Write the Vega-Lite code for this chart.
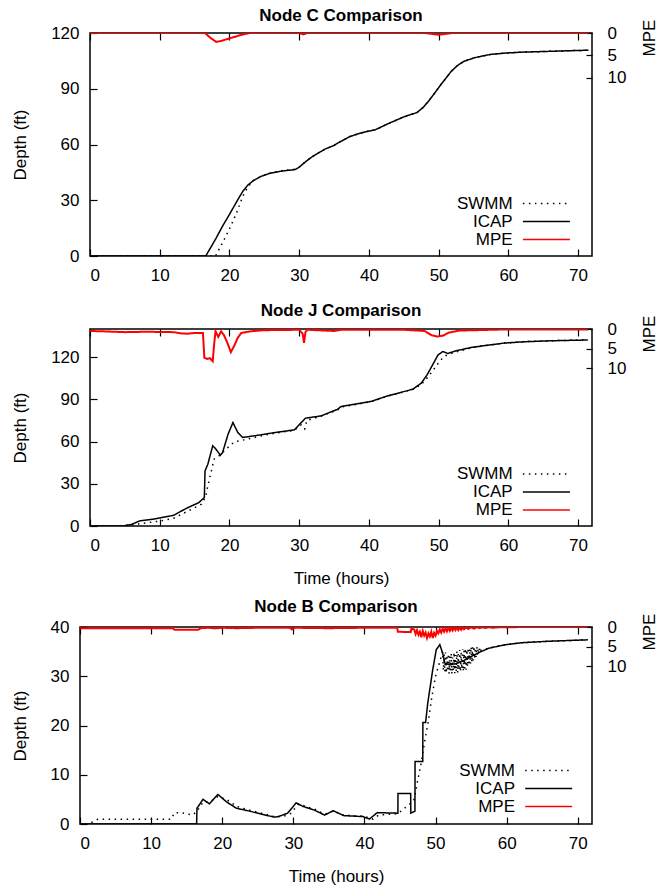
{
  "$schema": "https://vega.github.io/schema/vega-lite/v6.json",
  "background": "white",
  "padding": {"left": 9, "top": 6, "right": 0, "bottom": 0},
  "columns": 1,
  "spacing": 10,
  "resolve": {"scale": {"color": "independent", "strokeDash": "independent"}},
  "config": {
    "font": "Liberation Sans",
    "view": {"stroke": "#000", "strokeWidth": 1.5},
    "axis": {"grid": false, "domain": false, "labelFontSize": 17, "titleFontSize": 17, "titleFontWeight": "normal", "labelColor": "#000", "titleColor": "#000", "tickColor": "#000", "tickSize": -7, "tickWidth": 1.2, "labelPadding": 18},
    "axisX": {"titlePadding": 17},
    "axisY": {"titlePadding": 21},
    "title": {"fontSize": 17, "fontWeight": "bold", "color": "#000"},
    "legend": {"labelFontSize": 17, "labelColor": "#000", "labelAlign": "right", "labelOffset": -43.7, "symbolSize": 335, "symbolStrokeWidth": 1.5, "symbolType": "M-2.57,0H2.57", "rowPadding": 0, "padding": 0, "title": null}
  },
  "datasets": {
    "C": [
      {"s":"SWMM","t":0,"v":0},{"s":"SWMM","t":18,"v":0},{"s":"SWMM","t":19,"v":7},{"s":"SWMM","t":20,"v":14.5},{"s":"SWMM","t":21,"v":23},{"s":"SWMM","t":21.9,"v":32},{"s":"SWMM","t":22.6,"v":37},{"s":"SWMM","t":23.4,"v":40.5},{"s":"SWMM","t":24.5,"v":42.8},{"s":"SWMM","t":25.8,"v":44.5},{"s":"SWMM","t":27.5,"v":45.9},{"s":"SWMM","t":29.4,"v":46.7},{"s":"SWMM","t":30,"v":47.8},{"s":"SWMM","t":31,"v":51},{"s":"SWMM","t":31.9,"v":53.5},{"s":"SWMM","t":33,"v":56},{"s":"SWMM","t":33.7,"v":57.5},{"s":"SWMM","t":35,"v":59.5},{"s":"SWMM","t":35.5,"v":60.7},{"s":"SWMM","t":37.3,"v":64.3},{"s":"SWMM","t":38.5,"v":65.8},{"s":"SWMM","t":39.7,"v":67},{"s":"SWMM","t":40.9,"v":67.9},{"s":"SWMM","t":42.7,"v":71.1},{"s":"SWMM","t":45.1,"v":75},{"s":"SWMM","t":46.9,"v":77.2},{"s":"SWMM","t":47.8,"v":80},{"s":"SWMM","t":48.7,"v":84},{"s":"SWMM","t":49.5,"v":88},{"s":"SWMM","t":50.3,"v":92.1},{"s":"SWMM","t":51.8,"v":99.3},{"s":"SWMM","t":52.7,"v":102.5},{"s":"SWMM","t":53.6,"v":104.7},{"s":"SWMM","t":55,"v":106.5},{"s":"SWMM","t":56,"v":107.4},{"s":"SWMM","t":57.5,"v":108.5},{"s":"SWMM","t":59.6,"v":109.2},{"s":"SWMM","t":62,"v":109.7},{"s":"SWMM","t":65.6,"v":110.1},{"s":"SWMM","t":69.9,"v":110.6},{"s":"SWMM","t":71.5,"v":110.7},
      {"s":"ICAP","t":0,"v":0},{"s":"ICAP","t":16.6,"v":0},{"s":"ICAP","t":18,"v":9},{"s":"ICAP","t":19,"v":16},{"s":"ICAP","t":20.1,"v":23},{"s":"ICAP","t":21,"v":29},{"s":"ICAP","t":21.9,"v":34.7},{"s":"ICAP","t":22.6,"v":38},{"s":"ICAP","t":23.4,"v":40.5},{"s":"ICAP","t":24.5,"v":42.8},{"s":"ICAP","t":25.8,"v":44.5},{"s":"ICAP","t":27.5,"v":45.7},{"s":"ICAP","t":29.4,"v":46.5},{"s":"ICAP","t":30,"v":47.8},{"s":"ICAP","t":31,"v":51},{"s":"ICAP","t":31.9,"v":53.5},{"s":"ICAP","t":33,"v":56},{"s":"ICAP","t":33.7,"v":57.5},{"s":"ICAP","t":35,"v":59.5},{"s":"ICAP","t":35.5,"v":60.7},{"s":"ICAP","t":37.3,"v":64.3},{"s":"ICAP","t":38.5,"v":65.8},{"s":"ICAP","t":39.7,"v":67},{"s":"ICAP","t":40.9,"v":67.9},{"s":"ICAP","t":42.7,"v":71.1},{"s":"ICAP","t":45.1,"v":75},{"s":"ICAP","t":46.9,"v":77.2},{"s":"ICAP","t":47.8,"v":80},{"s":"ICAP","t":48.7,"v":84},{"s":"ICAP","t":49.5,"v":88},{"s":"ICAP","t":50.3,"v":92.1},{"s":"ICAP","t":51.8,"v":99.3},{"s":"ICAP","t":52.7,"v":102.5},{"s":"ICAP","t":53.6,"v":104.7},{"s":"ICAP","t":55,"v":106.5},{"s":"ICAP","t":56,"v":107.4},{"s":"ICAP","t":57.5,"v":108.5},{"s":"ICAP","t":59.6,"v":109.2},{"s":"ICAP","t":62,"v":109.7},{"s":"ICAP","t":65.6,"v":110.1},{"s":"ICAP","t":69.9,"v":110.6},{"s":"ICAP","t":71.5,"v":110.7},
      {"s":"MPE","t":0,"v":0},{"s":"MPE","t":16.5,"v":0},{"s":"MPE","t":17.2,"v":1.0},{"s":"MPE","t":18.1,"v":2.0},{"s":"MPE","t":19,"v":1.7},{"s":"MPE","t":20,"v":1.2},{"s":"MPE","t":20.7,"v":0.9},{"s":"MPE","t":21.5,"v":0.5},{"s":"MPE","t":22.7,"v":0.07},{"s":"MPE","t":23,"v":0},{"s":"MPE","t":30,"v":0},{"s":"MPE","t":30.6,"v":0.3},{"s":"MPE","t":31.2,"v":0},{"s":"MPE","t":48,"v":0},{"s":"MPE","t":50,"v":0.4},{"s":"MPE","t":52,"v":0},{"s":"MPE","t":71.5,"v":0}
    ],
    "J": [
      {"s":"SWMM","t":0,"v":0},{"s":"SWMM","t":4,"v":0},{"s":"SWMM","t":6,"v":0.8},{"s":"SWMM","t":8,"v":2.2},{"s":"SWMM","t":10,"v":3.5},{"s":"SWMM","t":12,"v":5.5},{"s":"SWMM","t":14,"v":10.5},{"s":"SWMM","t":16,"v":15.5},{"s":"SWMM","t":16.6,"v":21},{"s":"SWMM","t":16.9,"v":28.5},{"s":"SWMM","t":17.4,"v":39},{"s":"SWMM","t":17.8,"v":47.5},{"s":"SWMM","t":18.5,"v":49.8},{"s":"SWMM","t":19.5,"v":54.6},{"s":"SWMM","t":20.7,"v":59.8},{"s":"SWMM","t":22.1,"v":61.2},{"s":"SWMM","t":24.1,"v":63.5},{"s":"SWMM","t":26.5,"v":66},{"s":"SWMM","t":29.3,"v":68},{"s":"SWMM","t":30.3,"v":72},{"s":"SWMM","t":30.8,"v":69},{"s":"SWMM","t":31.1,"v":75},{"s":"SWMM","t":33.1,"v":78},{"s":"SWMM","t":35.5,"v":82.5},{"s":"SWMM","t":36,"v":84.5},{"s":"SWMM","t":40.3,"v":88.3},{"s":"SWMM","t":42.7,"v":92.3},{"s":"SWMM","t":46.3,"v":97},{"s":"SWMM","t":47.5,"v":100.5},{"s":"SWMM","t":48.5,"v":106},{"s":"SWMM","t":49.4,"v":112},{"s":"SWMM","t":50.3,"v":118},{"s":"SWMM","t":51,"v":121},{"s":"SWMM","t":52,"v":123},{"s":"SWMM","t":54.7,"v":126.6},{"s":"SWMM","t":56.6,"v":128.2},{"s":"SWMM","t":59.4,"v":130},{"s":"SWMM","t":62.5,"v":131},{"s":"SWMM","t":66.6,"v":131.7},{"s":"SWMM","t":71.4,"v":132.2},
      {"s":"ICAP","t":0,"v":0},{"s":"ICAP","t":4.8,"v":0},{"s":"ICAP","t":6,"v":1.2},{"s":"ICAP","t":7.1,"v":3.6},{"s":"ICAP","t":9,"v":4.8},{"s":"ICAP","t":12,"v":7.6},{"s":"ICAP","t":13.8,"v":12.5},{"s":"ICAP","t":15.6,"v":16.6},{"s":"ICAP","t":16.4,"v":20.2},{"s":"ICAP","t":16.5,"v":39.2},{"s":"ICAP","t":16.9,"v":43.9},{"s":"ICAP","t":17.6,"v":57},{"s":"ICAP","t":18,"v":55},{"s":"ICAP","t":18.7,"v":50.3},{"s":"ICAP","t":19,"v":52},{"s":"ICAP","t":19.8,"v":65.2},{"s":"ICAP","t":20.5,"v":73.5},{"s":"ICAP","t":21.2,"v":66.4},{"s":"ICAP","t":21.9,"v":62.9},{"s":"ICAP","t":24.1,"v":64.5},{"s":"ICAP","t":26.5,"v":66.4},{"s":"ICAP","t":29.3,"v":68.3},{"s":"ICAP","t":30.3,"v":73.5},{"s":"ICAP","t":30.9,"v":76.6},{"s":"ICAP","t":33.1,"v":78.2},{"s":"ICAP","t":35.5,"v":82.9},{"s":"ICAP","t":36,"v":84.9},{"s":"ICAP","t":40.3,"v":88.5},{"s":"ICAP","t":42.7,"v":92.5},{"s":"ICAP","t":46.3,"v":97.2},{"s":"ICAP","t":47.5,"v":101.5},{"s":"ICAP","t":48.3,"v":107},{"s":"ICAP","t":49.2,"v":115},{"s":"ICAP","t":49.9,"v":121.5},{"s":"ICAP","t":50.6,"v":124},{"s":"ICAP","t":51.3,"v":122.6},{"s":"ICAP","t":52.5,"v":124.5},{"s":"ICAP","t":54.7,"v":126.9},{"s":"ICAP","t":56.6,"v":128.2},{"s":"ICAP","t":59.4,"v":130},{"s":"ICAP","t":62.5,"v":131},{"s":"ICAP","t":66.6,"v":131.7},{"s":"ICAP","t":71.4,"v":132.2},
      {"s":"MPE","t":0,"v":0.5},{"s":"MPE","t":2,"v":0.6},{"s":"MPE","t":5,"v":0.8},{"s":"MPE","t":8,"v":0.7},{"s":"MPE","t":12,"v":0.8},{"s":"MPE","t":13,"v":1.1},{"s":"MPE","t":14,"v":1.2},{"s":"MPE","t":15,"v":1.0},{"s":"MPE","t":16.2,"v":1.0},{"s":"MPE","t":16.4,"v":7.3},{"s":"MPE","t":16.8,"v":7.6},{"s":"MPE","t":17.2,"v":7.4},{"s":"MPE","t":17.6,"v":8.2},{"s":"MPE","t":17.8,"v":4},{"s":"MPE","t":18,"v":0.6},{"s":"MPE","t":18.4,"v":2},{"s":"MPE","t":18.8,"v":0.6},{"s":"MPE","t":19.2,"v":1.5},{"s":"MPE","t":19.7,"v":3.5},{"s":"MPE","t":20.2,"v":5.9},{"s":"MPE","t":20.7,"v":4.2},{"s":"MPE","t":21.2,"v":2.2},{"s":"MPE","t":21.7,"v":1.0},{"s":"MPE","t":23,"v":0.6},{"s":"MPE","t":25,"v":0.3},{"s":"MPE","t":30,"v":0.2},{"s":"MPE","t":30.5,"v":1.2},{"s":"MPE","t":30.7,"v":3.5},{"s":"MPE","t":30.9,"v":0.8},{"s":"MPE","t":31.2,"v":0.2},{"s":"MPE","t":35,"v":0.5},{"s":"MPE","t":36,"v":0.2},{"s":"MPE","t":45,"v":0.2},{"s":"MPE","t":48,"v":0.5},{"s":"MPE","t":49,"v":1.6},{"s":"MPE","t":49.8,"v":1.9},{"s":"MPE","t":50.6,"v":1.7},{"s":"MPE","t":51.5,"v":0.9},{"s":"MPE","t":53,"v":0.4},{"s":"MPE","t":60,"v":0.1},{"s":"MPE","t":71.4,"v":0.1}
    ],
    "B": [
      {"s":"SWMM","t":1.6,"v":0.3},{"s":"SWMM","t":2.5,"v":0.95},{"s":"SWMM","t":12.8,"v":0.95},{"s":"SWMM","t":13.3,"v":2.3},{"s":"SWMM","t":14.2,"v":2.3},{"s":"SWMM","t":15.2,"v":2.0},{"s":"SWMM","t":15.8,"v":1.8},{"s":"SWMM","t":16.4,"v":2.5},{"s":"SWMM","t":17.3,"v":4.4},{"s":"SWMM","t":18.2,"v":4.4},{"s":"SWMM","t":19.4,"v":5.6},{"s":"SWMM","t":20.6,"v":5.0},{"s":"SWMM","t":22,"v":3.6},{"s":"SWMM","t":23.6,"v":2.9},{"s":"SWMM","t":25.5,"v":2.2},{"s":"SWMM","t":27.3,"v":1.5},{"s":"SWMM","t":28.5,"v":1.5},{"s":"SWMM","t":29.6,"v":2.1},{"s":"SWMM","t":30.7,"v":4.0},{"s":"SWMM","t":31.5,"v":3.7},{"s":"SWMM","t":33,"v":3.0},{"s":"SWMM","t":34.4,"v":2.0},{"s":"SWMM","t":35.6,"v":2.6},{"s":"SWMM","t":37.1,"v":1.8},{"s":"SWMM","t":39.8,"v":1.6},{"s":"SWMM","t":41.2,"v":1.0},{"s":"SWMM","t":42,"v":1.8},{"s":"SWMM","t":44.7,"v":2.1},{"s":"SWMM","t":46.5,"v":4.2},{"s":"SWMM","t":47,"v":5},{"s":"SWMM","t":47.5,"v":9},{"s":"SWMM","t":48,"v":12.5},{"s":"SWMM","t":48.5,"v":17},{"s":"SWMM","t":49,"v":21},{"s":"SWMM","t":49.5,"v":26},{"s":"SWMM","t":50,"v":30},{"s":"SWMM","t":50.5,"v":32.5},{"s":"SWMM","t":51.0,"v":35.0},{"s":"SWMM","t":51.1,"v":31.2},{"s":"SWMM","t":51.2,"v":34.4},{"s":"SWMM","t":51.3,"v":30.9},{"s":"SWMM","t":51.4,"v":34.8},{"s":"SWMM","t":51.5,"v":30.6},{"s":"SWMM","t":51.6,"v":33.9},{"s":"SWMM","t":51.7,"v":31.0},{"s":"SWMM","t":51.8,"v":34.6},{"s":"SWMM","t":51.9,"v":30.5},{"s":"SWMM","t":52.0,"v":34.1},{"s":"SWMM","t":52.1,"v":30.8},{"s":"SWMM","t":52.2,"v":34.7},{"s":"SWMM","t":52.3,"v":30.4},{"s":"SWMM","t":52.4,"v":33.8},{"s":"SWMM","t":52.5,"v":31.1},{"s":"SWMM","t":52.6,"v":34.9},{"s":"SWMM","t":52.7,"v":30.6},{"s":"SWMM","t":52.8,"v":34.3},{"s":"SWMM","t":52.9,"v":30.9},{"s":"SWMM","t":53.0,"v":35.1},{"s":"SWMM","t":53.1,"v":30.7},{"s":"SWMM","t":53.2,"v":34.5},{"s":"SWMM","t":53.3,"v":31.2},{"s":"SWMM","t":53.4,"v":35.3},{"s":"SWMM","t":53.5,"v":30.9},{"s":"SWMM","t":53.6,"v":34.8},{"s":"SWMM","t":53.7,"v":31.4},{"s":"SWMM","t":53.8,"v":35.5},{"s":"SWMM","t":53.9,"v":31.0},{"s":"SWMM","t":54.0,"v":35.2},{"s":"SWMM","t":54.1,"v":31.6},{"s":"SWMM","t":54.2,"v":35.7},{"s":"SWMM","t":54.3,"v":31.3},{"s":"SWMM","t":54.4,"v":35.4},{"s":"SWMM","t":54.5,"v":31.9},{"s":"SWMM","t":54.6,"v":35.8},{"s":"SWMM","t":54.7,"v":32.2},{"s":"SWMM","t":54.8,"v":35.6},{"s":"SWMM","t":54.9,"v":32.5},{"s":"SWMM","t":55.0,"v":36.0},{"s":"SWMM","t":55.1,"v":32.8},{"s":"SWMM","t":55.2,"v":35.9},{"s":"SWMM","t":55.3,"v":33.2},{"s":"SWMM","t":55.4,"v":36.1},{"s":"SWMM","t":55.5,"v":33.5},{"s":"SWMM","t":55.6,"v":35.8},{"s":"SWMM","t":55.7,"v":33.9},{"s":"SWMM","t":55.8,"v":36.0},{"s":"SWMM","t":55.9,"v":34.3},{"s":"SWMM","t":56.0,"v":35.7},{"s":"SWMM","t":56.1,"v":34.6},{"s":"SWMM","t":56.2,"v":35.6},{"s":"SWMM","t":56.3,"v":34.9},{"s":"SWMM","t":56.4,"v":35.3},{"s":"SWMM","t":57.5,"v":35.7},{"s":"SWMM","t":59.8,"v":36.4},{"s":"SWMM","t":62,"v":36.8},{"s":"SWMM","t":65.8,"v":37.1},{"s":"SWMM","t":71.4,"v":37.4},
      {"s":"ICAP","t":0,"v":0},{"s":"ICAP","t":16.4,"v":0},{"s":"ICAP","t":16.45,"v":3.2},{"s":"ICAP","t":17.3,"v":5.0},{"s":"ICAP","t":18.2,"v":4.1},{"s":"ICAP","t":19.4,"v":6.0},{"s":"ICAP","t":20.6,"v":4.5},{"s":"ICAP","t":22,"v":3.2},{"s":"ICAP","t":23.6,"v":2.7},{"s":"ICAP","t":25.5,"v":2.0},{"s":"ICAP","t":27.3,"v":1.4},{"s":"ICAP","t":27.9,"v":1.5},{"s":"ICAP","t":29.2,"v":2.2},{"s":"ICAP","t":30.4,"v":4.3},{"s":"ICAP","t":31.3,"v":3.6},{"s":"ICAP","t":33,"v":2.8},{"s":"ICAP","t":34.4,"v":1.8},{"s":"ICAP","t":35.6,"v":2.7},{"s":"ICAP","t":37.1,"v":1.7},{"s":"ICAP","t":39.8,"v":1.5},{"s":"ICAP","t":40.7,"v":1.0},{"s":"ICAP","t":41.8,"v":2.3},{"s":"ICAP","t":44.7,"v":2.2},{"s":"ICAP","t":44.72,"v":6.2},{"s":"ICAP","t":46.5,"v":6.2},{"s":"ICAP","t":46.52,"v":2.2},{"s":"ICAP","t":47.1,"v":2.6},{"s":"ICAP","t":47.12,"v":12.7},{"s":"ICAP","t":48.2,"v":12.7},{"s":"ICAP","t":48.22,"v":20.6},{"s":"ICAP","t":48.6,"v":20.6},{"s":"ICAP","t":48.9,"v":24.5},{"s":"ICAP","t":49.6,"v":31.3},{"s":"ICAP","t":50.1,"v":35.4},{"s":"ICAP","t":50.6,"v":36.4},{"s":"ICAP","t":51.0,"v":34.7},{"s":"ICAP","t":51.3,"v":32.7},{"s":"ICAP","t":52,"v":32.3},{"s":"ICAP","t":53,"v":32.6},{"s":"ICAP","t":54,"v":33.2},{"s":"ICAP","t":55,"v":34},{"s":"ICAP","t":56.4,"v":35},{"s":"ICAP","t":57.5,"v":35.7},{"s":"ICAP","t":59.8,"v":36.4},{"s":"ICAP","t":62,"v":36.8},{"s":"ICAP","t":65.8,"v":37.1},{"s":"ICAP","t":71.4,"v":37.4},
      {"s":"MPE","t":0,"v":0.3},{"s":"MPE","t":13,"v":0.3},{"s":"MPE","t":13.3,"v":0.7},{"s":"MPE","t":16.6,"v":0.7},{"s":"MPE","t":17,"v":0.3},{"s":"MPE","t":18,"v":0.2},{"s":"MPE","t":19,"v":0.35},{"s":"MPE","t":20,"v":0.2},{"s":"MPE","t":22,"v":0.3},{"s":"MPE","t":25,"v":0.2},{"s":"MPE","t":29.5,"v":0.2},{"s":"MPE","t":29.8,"v":0.6},{"s":"MPE","t":30.2,"v":0.2},{"s":"MPE","t":35,"v":0.3},{"s":"MPE","t":40,"v":0.2},{"s":"MPE","t":44.6,"v":0.2},{"s":"MPE","t":44.7,"v":1.2},{"s":"MPE","t":46.5,"v":1.3},{"s":"MPE","t":46.6,"v":0.5},{"s":"MPE","t":47,"v":0.6},{"s":"MPE","t":47.2,"v":1.8},{"s":"MPE","t":47.4,"v":0.8},{"s":"MPE","t":47.6,"v":2.0},{"s":"MPE","t":47.8,"v":1.2},{"s":"MPE","t":48.0,"v":2.6},{"s":"MPE","t":48.2,"v":1.0},{"s":"MPE","t":48.4,"v":2.2},{"s":"MPE","t":48.6,"v":1.4},{"s":"MPE","t":48.8,"v":2.8},{"s":"MPE","t":49.0,"v":1.6},{"s":"MPE","t":49.2,"v":2.4},{"s":"MPE","t":49.4,"v":1.2},{"s":"MPE","t":49.6,"v":2.8},{"s":"MPE","t":49.8,"v":1.5},{"s":"MPE","t":50.0,"v":2.2},{"s":"MPE","t":50.2,"v":1.0},{"s":"MPE","t":50.4,"v":1.6},{"s":"MPE","t":50.6,"v":0.6},{"s":"MPE","t":50.8,"v":1.4},{"s":"MPE","t":51.0,"v":0.4},{"s":"MPE","t":51.2,"v":1.2},{"s":"MPE","t":51.4,"v":0.3},{"s":"MPE","t":51.6,"v":1.1},{"s":"MPE","t":51.8,"v":0.2},{"s":"MPE","t":52,"v":1.0},{"s":"MPE","t":52.2,"v":0.2},{"s":"MPE","t":52.4,"v":0.9},{"s":"MPE","t":52.6,"v":0.1},{"s":"MPE","t":52.8,"v":0.8},{"s":"MPE","t":53,"v":0.1},{"s":"MPE","t":53.2,"v":0.8},{"s":"MPE","t":53.4,"v":0.1},{"s":"MPE","t":53.6,"v":0.7},{"s":"MPE","t":53.8,"v":0.1},{"s":"MPE","t":54,"v":0.6},{"s":"MPE","t":54.3,"v":0.1},{"s":"MPE","t":54.6,"v":0.5},{"s":"MPE","t":55,"v":0.1},{"s":"MPE","t":55.4,"v":0.4},{"s":"MPE","t":55.8,"v":0.05},{"s":"MPE","t":56.2,"v":0.3},{"s":"MPE","t":56.6,"v":0.05},{"s":"MPE","t":57,"v":0.25},{"s":"MPE","t":57.5,"v":0.05},{"s":"MPE","t":58,"v":0.2},{"s":"MPE","t":59,"v":0.05},{"s":"MPE","t":60,"v":0.1},{"s":"MPE","t":62,"v":0},{"s":"MPE","t":71.4,"v":0}
    ],
    "spacer": [{"a": 0}]
  },
  "concat": [
    {
      "spacing": 0,
      "resolve": {"scale": {"color": "independent", "strokeDash": "independent"}},
      "hconcat": [
        {"width": 1, "height": 1, "data": {"name": "spacer"}, "mark": {"type": "point", "size": 0, "strokeWidth": 0, "opacity": 0}, "encoding": {}, "view": {"stroke": null}},
        {
          "title": {"text": "Node C Comparison", "frame": "group", "offset": -6},
          "width": 502, "height": 223,
          "data": {"name": "C"},
          "resolve": {"scale": {"y": "independent"}, "axis": {"x": "independent"}},
          "layer": [
            {
              "transform": [{"filter": "datum.s != 'MPE'"}],
              "mark": {"type": "line", "strokeWidth": 1.5, "clip": true},
              "encoding": {
                "x": {"field": "t", "type": "quantitative", "scale": {"domain": [0, 72], "nice": false}, "axis": {"values": [0,10,20,30,40,50,60,70], "title": " ", "titleFontSize": 1, "titlePadding": 6}},
                "y": {"field": "v", "type": "quantitative", "scale": {"domain": [0, 120], "nice": false}, "axis": {"values": [0,30,60,90,120], "title": "Depth (ft)"}},
                "color": {"field": "s", "type": "nominal", "scale": {"domain": ["SWMM","ICAP","MPE"], "range": ["#000000","#000000","#ff0000"]}, "legend": {"orient": "none", "legendX": 446.4, "legendY": 160.6, "symbolType": "M-2.57,0H2.57"}},
                "strokeDash": {"field": "s", "type": "nominal", "scale": {"domain": ["SWMM","ICAP","MPE"], "range": [[1.5,4.5],[1,0],[1,0]]}, "legend": {"orient": "none", "legendX": 446.4, "legendY": 160.6, "symbolType": "M-2.57,0H2.57"}}
              }
            },
            {
              "transform": [{"filter": "datum.s == 'MPE'"}],
              "mark": {"type": "line", "strokeWidth": 2, "clip": true},
              "encoding": {
                "x": {"field": "t", "type": "quantitative", "scale": {"domain": [0, 72], "nice": false}, "axis": {"orient": "top", "values": [0,10,20,30,40,50,60,70], "labels": false, "title": null}},
                "y": {"field": "v", "type": "quantitative", "scale": {"domain": [0, 50], "reverse": true, "nice": false}, "axis": {"orient": "right", "values": [0,5,10], "tickSize": -6, "labelPadding": 21, "title": "MPE", "titleAngle": 270, "titleX": 57, "titleY": 4.5, "titleAlign": "center", "titleBaseline": "middle"}},
                "color": {"field": "s", "type": "nominal", "scale": {"domain": ["SWMM","ICAP","MPE"], "range": ["#000000","#000000","#ff0000"]}},
                "strokeDash": {"field": "s", "type": "nominal", "scale": {"domain": ["SWMM","ICAP","MPE"], "range": [[1.5,4.5],[1,0],[1,0]]}}
              }
            }
          ]
        }
      ]
    },
    {
      "spacing": 0,
      "resolve": {"scale": {"color": "independent", "strokeDash": "independent"}},
      "hconcat": [
        {"width": 1, "height": 1, "data": {"name": "spacer"}, "mark": {"type": "point", "size": 0, "strokeWidth": 0, "opacity": 0}, "encoding": {}, "view": {"stroke": null}},
        {
          "title": {"text": "Node J Comparison", "frame": "group", "offset": -5},
          "width": 502, "height": 197,
          "data": {"name": "J"},
          "resolve": {"scale": {"y": "independent"}, "axis": {"x": "independent"}},
          "layer": [
            {
              "transform": [{"filter": "datum.s != 'MPE'"}],
              "mark": {"type": "line", "strokeWidth": 1.5, "clip": true},
              "encoding": {
                "x": {"field": "t", "type": "quantitative", "scale": {"domain": [0, 72], "nice": false}, "axis": {"values": [0,10,20,30,40,50,60,70], "title": "Time (hours)"}},
                "y": {"field": "v", "type": "quantitative", "scale": {"domain": [0, 140], "nice": false}, "axis": {"values": [0,30,60,90,120], "title": "Depth (ft)"}},
                "color": {"field": "s", "type": "nominal", "scale": {"domain": ["SWMM","ICAP","MPE"], "range": ["#000000","#000000","#ff0000"]}, "legend": {"orient": "none", "legendX": 446.4, "legendY": 134.9, "symbolType": "M-2.57,0H2.57"}},
                "strokeDash": {"field": "s", "type": "nominal", "scale": {"domain": ["SWMM","ICAP","MPE"], "range": [[1.5,4.5],[1,0],[1,0]]}, "legend": {"orient": "none", "legendX": 446.4, "legendY": 134.9, "symbolType": "M-2.57,0H2.57"}}
              }
            },
            {
              "transform": [{"filter": "datum.s == 'MPE'"}],
              "mark": {"type": "line", "strokeWidth": 2, "clip": true},
              "encoding": {
                "x": {"field": "t", "type": "quantitative", "scale": {"domain": [0, 72], "nice": false}, "axis": {"orient": "top", "values": [0,10,20,30,40,50,60,70], "labels": false, "title": null}},
                "y": {"field": "v", "type": "quantitative", "scale": {"domain": [0, 50], "reverse": true, "nice": false}, "axis": {"orient": "right", "values": [0,5,10], "tickSize": -6, "labelPadding": 21, "title": "MPE", "titleAngle": 270, "titleX": 57, "titleY": 4.5, "titleAlign": "center", "titleBaseline": "middle"}},
                "color": {"field": "s", "type": "nominal", "scale": {"domain": ["SWMM","ICAP","MPE"], "range": ["#000000","#000000","#ff0000"]}},
                "strokeDash": {"field": "s", "type": "nominal", "scale": {"domain": ["SWMM","ICAP","MPE"], "range": [[1.5,4.5],[1,0],[1,0]]}}
              }
            }
          ]
        }
      ]
    },
    {
      "spacing": 0,
      "resolve": {"scale": {"color": "independent", "strokeDash": "independent"}},
      "hconcat": [
        {"width": 1, "height": 1, "data": {"name": "spacer"}, "mark": {"type": "point", "size": 0, "strokeWidth": 0, "opacity": 0}, "encoding": {}, "view": {"stroke": null}},
        {
          "title": {"text": "Node B Comparison", "frame": "group", "offset": -3},
          "width": 512, "height": 197,
          "data": {"name": "B"},
          "resolve": {"scale": {"y": "independent"}, "axis": {"x": "independent"}},
          "layer": [
            {
              "transform": [{"filter": "datum.s != 'MPE'"}],
              "mark": {"type": "line", "strokeWidth": 1.5, "clip": true},
              "encoding": {
                "x": {"field": "t", "type": "quantitative", "scale": {"domain": [0, 72], "nice": false}, "axis": {"values": [0,10,20,30,40,50,60,70], "title": "Time (hours)"}},
                "y": {"field": "v", "type": "quantitative", "scale": {"domain": [0, 40], "nice": false}, "axis": {"values": [0,10,20,30,40], "title": "Depth (ft)"}},
                "color": {"field": "s", "type": "nominal", "scale": {"domain": ["SWMM","ICAP","MPE"], "range": ["#000000","#000000","#ff0000"]}, "legend": {"orient": "none", "legendX": 458.7, "legendY": 133.5, "symbolType": "M-2.57,0H2.57"}},
                "strokeDash": {"field": "s", "type": "nominal", "scale": {"domain": ["SWMM","ICAP","MPE"], "range": [[1.5,4.5],[1,0],[1,0]]}, "legend": {"orient": "none", "legendX": 458.7, "legendY": 133.5, "symbolType": "M-2.57,0H2.57"}}
              }
            },
            {
              "transform": [{"filter": "datum.s == 'MPE'"}],
              "mark": {"type": "line", "strokeWidth": 2, "clip": true},
              "encoding": {
                "x": {"field": "t", "type": "quantitative", "scale": {"domain": [0, 72], "nice": false}, "axis": {"orient": "top", "values": [0,10,20,30,40,50,60,70], "labels": false, "title": null}},
                "y": {"field": "v", "type": "quantitative", "scale": {"domain": [0, 50], "reverse": true, "nice": false}, "axis": {"orient": "right", "values": [0,5,10], "tickSize": -6, "labelPadding": 21, "title": "MPE", "titleAngle": 270, "titleX": 57, "titleY": 4.5, "titleAlign": "center", "titleBaseline": "middle"}},
                "color": {"field": "s", "type": "nominal", "scale": {"domain": ["SWMM","ICAP","MPE"], "range": ["#000000","#000000","#ff0000"]}},
                "strokeDash": {"field": "s", "type": "nominal", "scale": {"domain": ["SWMM","ICAP","MPE"], "range": [[1.5,4.5],[1,0],[1,0]]}}
              }
            }
          ]
        }
      ]
    }
  ]
}
